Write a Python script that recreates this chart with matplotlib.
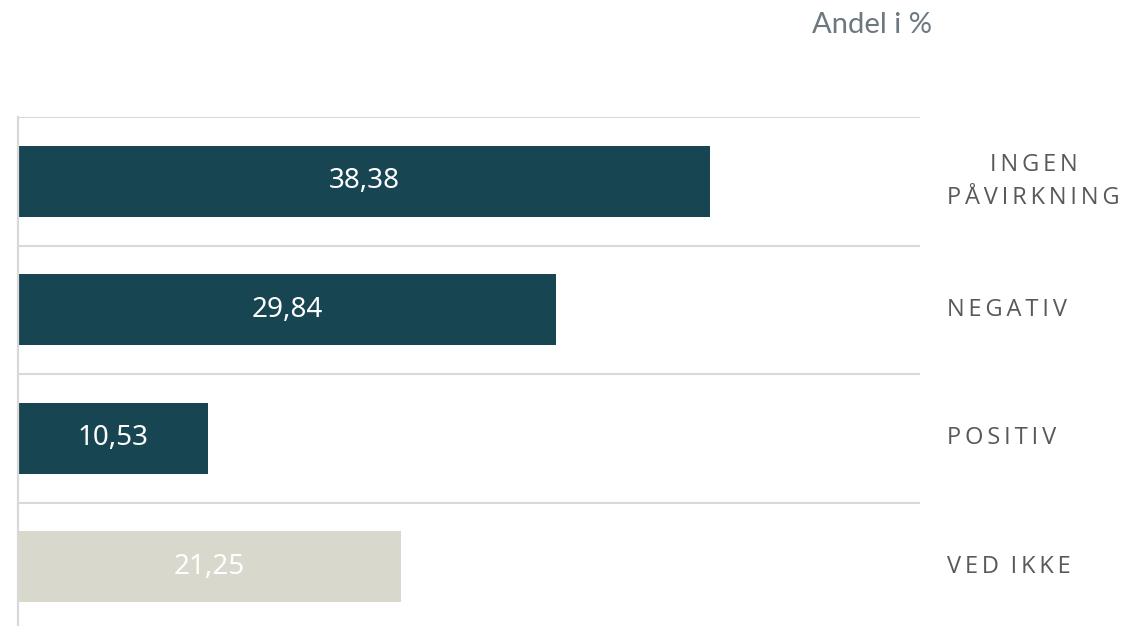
import matplotlib
matplotlib.use("Agg")
import matplotlib.pyplot as plt

categories = ["INGEN\nPÅVIRKNING", "NEGATIV", "POSITIV", "VED IKKE"]
values = [38.38, 29.84, 10.53, 21.25]
value_labels = ["38,38", "29,84", "10,53", "21,25"]
bar_colors = ["#174552", "#174552", "#174552", "#d9d8cc"]
axis_title = "Andel i %"

W, H = 1130, 626
fig = plt.figure(figsize=(W / 100, H / 100), dpi=100)
ax_left, ax_right, ax_top = 18, 920, 117
ax = fig.add_axes([ax_left / W, 0, (ax_right - ax_left) / W, (H - ax_top) / H])

band = 128.5
ybottom = -0.5 + (H - ax_top) / band
ypos = list(range(len(values)))
ax.barh(ypos, values, height=0.55, color=bar_colors, zorder=2)
ax.set_xlim(0, 50)
ax.set_ylim(ybottom, -0.5)

for y in [-0.5, 0.5, 1.5, 2.5]:
    ax.axhline(y, color="#d9d9d9", lw=1.5, zorder=1)

for s in ["top", "right", "bottom"]:
    ax.spines[s].set_visible(False)
ax.spines["left"].set_color("#d9d9d9")
ax.spines["left"].set_linewidth(1.6)
ax.set_xticks([])
ax.set_yticks([])

for y, v, lab in zip(ypos, values, value_labels):
    ax.text(v / 2, y, lab, ha="center", va="center", color="white",
            fontsize=20, family="Noto Sans", zorder=3)

def spaced(s):
    sp = "\u2009"
    return "\n".join(sp.join(list(line.replace(" ", sp))) for line in s.split("\n"))

for y, cat in zip(ypos, categories):
    fy = (H - (ax_top + (y + 0.5) * band)) / H
    fig.text(947 / W, fy, spaced(cat), ha="left", va="center",
             multialignment="center", color="#595959", fontsize=17,
             family=["Open Sans", "DejaVu Sans"], linespacing=1.5)

fig.text(932 / W, (H - 25) / H, axis_title, ha="right", va="center",
         color="#6a7880", fontsize=21, family="Lato", fontweight="normal")

fig.savefig("out.png", dpi=100)
